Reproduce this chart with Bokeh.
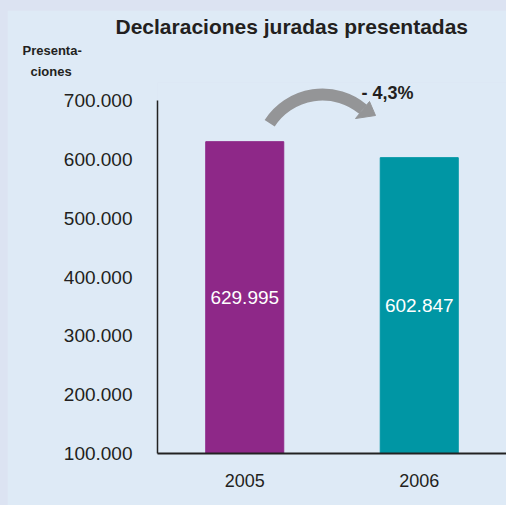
import math
from bokeh.plotting import figure
from bokeh.models import Range1d, FactorRange, FixedTicker, Label, ColumnDataSource, Title
from bokeh.embed import file_html
from bokeh.resources import INLINE

# ---- data ----
years = ["2005", "2006"]
values = [629995, 602847]
value_labels = ["629.995", "602.847"]
bar_colors = ["#8E2888", "#0096A4"]
y_ticks = [100000, 200000, 300000, 400000, 500000, 600000, 700000]
y_tick_labels = ["100.000", "200.000", "300.000", "400.000", "500.000", "600.000", "700.000"]
title_text = "Declaraciones juradas presentadas"
y_title_lines = ["Presenta-", "ciones"]
change_label = "- 4,3%"

# ---- layout constants (page pixels) ----
FIG_X, FIG_Y = 7, 10
FRAME_L = 157
FRAME_W = 349
FRAME_T = 82
FRAME_B = 453
Y0 = 100000
PX_PER_UNIT = (FRAME_B - 100) / (y_ticks[-1] - Y0)
Y1 = Y0 + (FRAME_B - FRAME_T) / PX_PER_UNIT

def dx(px):
    return (px - FRAME_L) / FRAME_W * len(years)

def dy(py):
    return Y0 + (FRAME_B - py) / PX_PER_UNIT

BG = "#DEEAF6"
OUTER = "#DCE3F2"
TXT = "#231F20"
FONT = "Liberation Sans"

p = figure(
    x_range=FactorRange(*years),
    y_range=Range1d(Y0, Y1),
    frame_width=FRAME_W, frame_height=FRAME_B - FRAME_T,
    min_border_left=FRAME_L - FIG_X, min_border_right=0,
    min_border_top=0, min_border_bottom=52,
    output_backend="svg", toolbar_location=None, title=None,
    styles={"padding-left": f"{FIG_X}px", "padding-top": f"{FIG_Y}px",
            "background-color": OUTER},
)
p.background_fill_color = BG
p.border_fill_color = BG
p.outline_line_color = None
p.xgrid.visible = False
p.ygrid.visible = False

src = ColumnDataSource(dict(
    x=years, top=values, color=bar_colors, label=value_labels,
    mid=[(Y0 + v) / 2 for v in values],
))
p.vbar(x="x", top="top", bottom=Y0, width=0.447, color="color", source=src)
p.text(x="x", y="mid", text="label", source=src, text_align="center",
       text_baseline="middle", text_color="white", text_font_size="19px",
       text_font={"value": FONT})

# y axis
ya = p.yaxis[0]
ya.ticker = FixedTicker(ticks=y_ticks)
ya.major_label_overrides = {t: l for t, l in zip(y_ticks, y_tick_labels)}
ya.bounds = (y_ticks[0], y_ticks[-1])
ya.major_tick_line_color = None
ya.minor_tick_line_color = None
ya.axis_line_color = "#222222"
ya.axis_line_width = 1.5
ya.major_label_standoff = 19
ya.major_label_text_font_size = "19px"
ya.major_label_text_font = FONT
ya.major_label_text_color = TXT

# x axis
xa = p.xaxis[0]
xa.major_tick_line_color = None
xa.minor_tick_line_color = None
xa.axis_line_color = "#222222"
xa.axis_line_width = 2
xa.major_label_standoff = 14
xa.major_label_text_font_size = "18px"
xa.major_label_text_font = FONT
xa.major_label_text_color = TXT

# curved arrow
ARC_CX, ARC_CY, ARC_R = 322, 157, 63
p.arc(x=[dx(ARC_CX)], y=[dy(ARC_CY)], radius=ARC_R, radius_units="screen",
      start_angle=math.radians(50), end_angle=math.radians(147),
      line_color="#949597", line_width=12, line_cap="butt")
head_px = [(369, 101), (375, 115), (355, 118)]
p.patch(x=[dx(a) for a, b in head_px], y=[dy(b) for a, b in head_px],
        fill_color="#949597", line_color="#949597", line_width=1)

p.add_layout(Label(x=dx(361), y=dy(92), text=change_label, text_align="left",
                   text_baseline="alphabetic", text_font=FONT, text_font_style="bold",
                   text_font_size="18px", text_color=TXT))

# titles stacked above the frame (first added = closest to frame)
p.add_layout(Title(text=y_title_lines[1], align="left", offset=30 - FRAME_L,
                   text_font=FONT, text_font_style="bold", text_font_size="13px",
                   text_color=TXT, standoff=7), "above")
p.add_layout(Title(text=y_title_lines[0], align="left", offset=22 - FRAME_L,
                   text_font=FONT, text_font_style="bold", text_font_size="13px",
                   text_color=TXT, standoff=2), "above")
p.add_layout(Title(text=title_text, align="left", offset=115 - FRAME_L,
                   text_font=FONT, text_font_style="bold", text_font_size="21px",
                   text_color=TXT, standoff=4), "above")

open("out.html", "w").write(file_html(p, INLINE))
